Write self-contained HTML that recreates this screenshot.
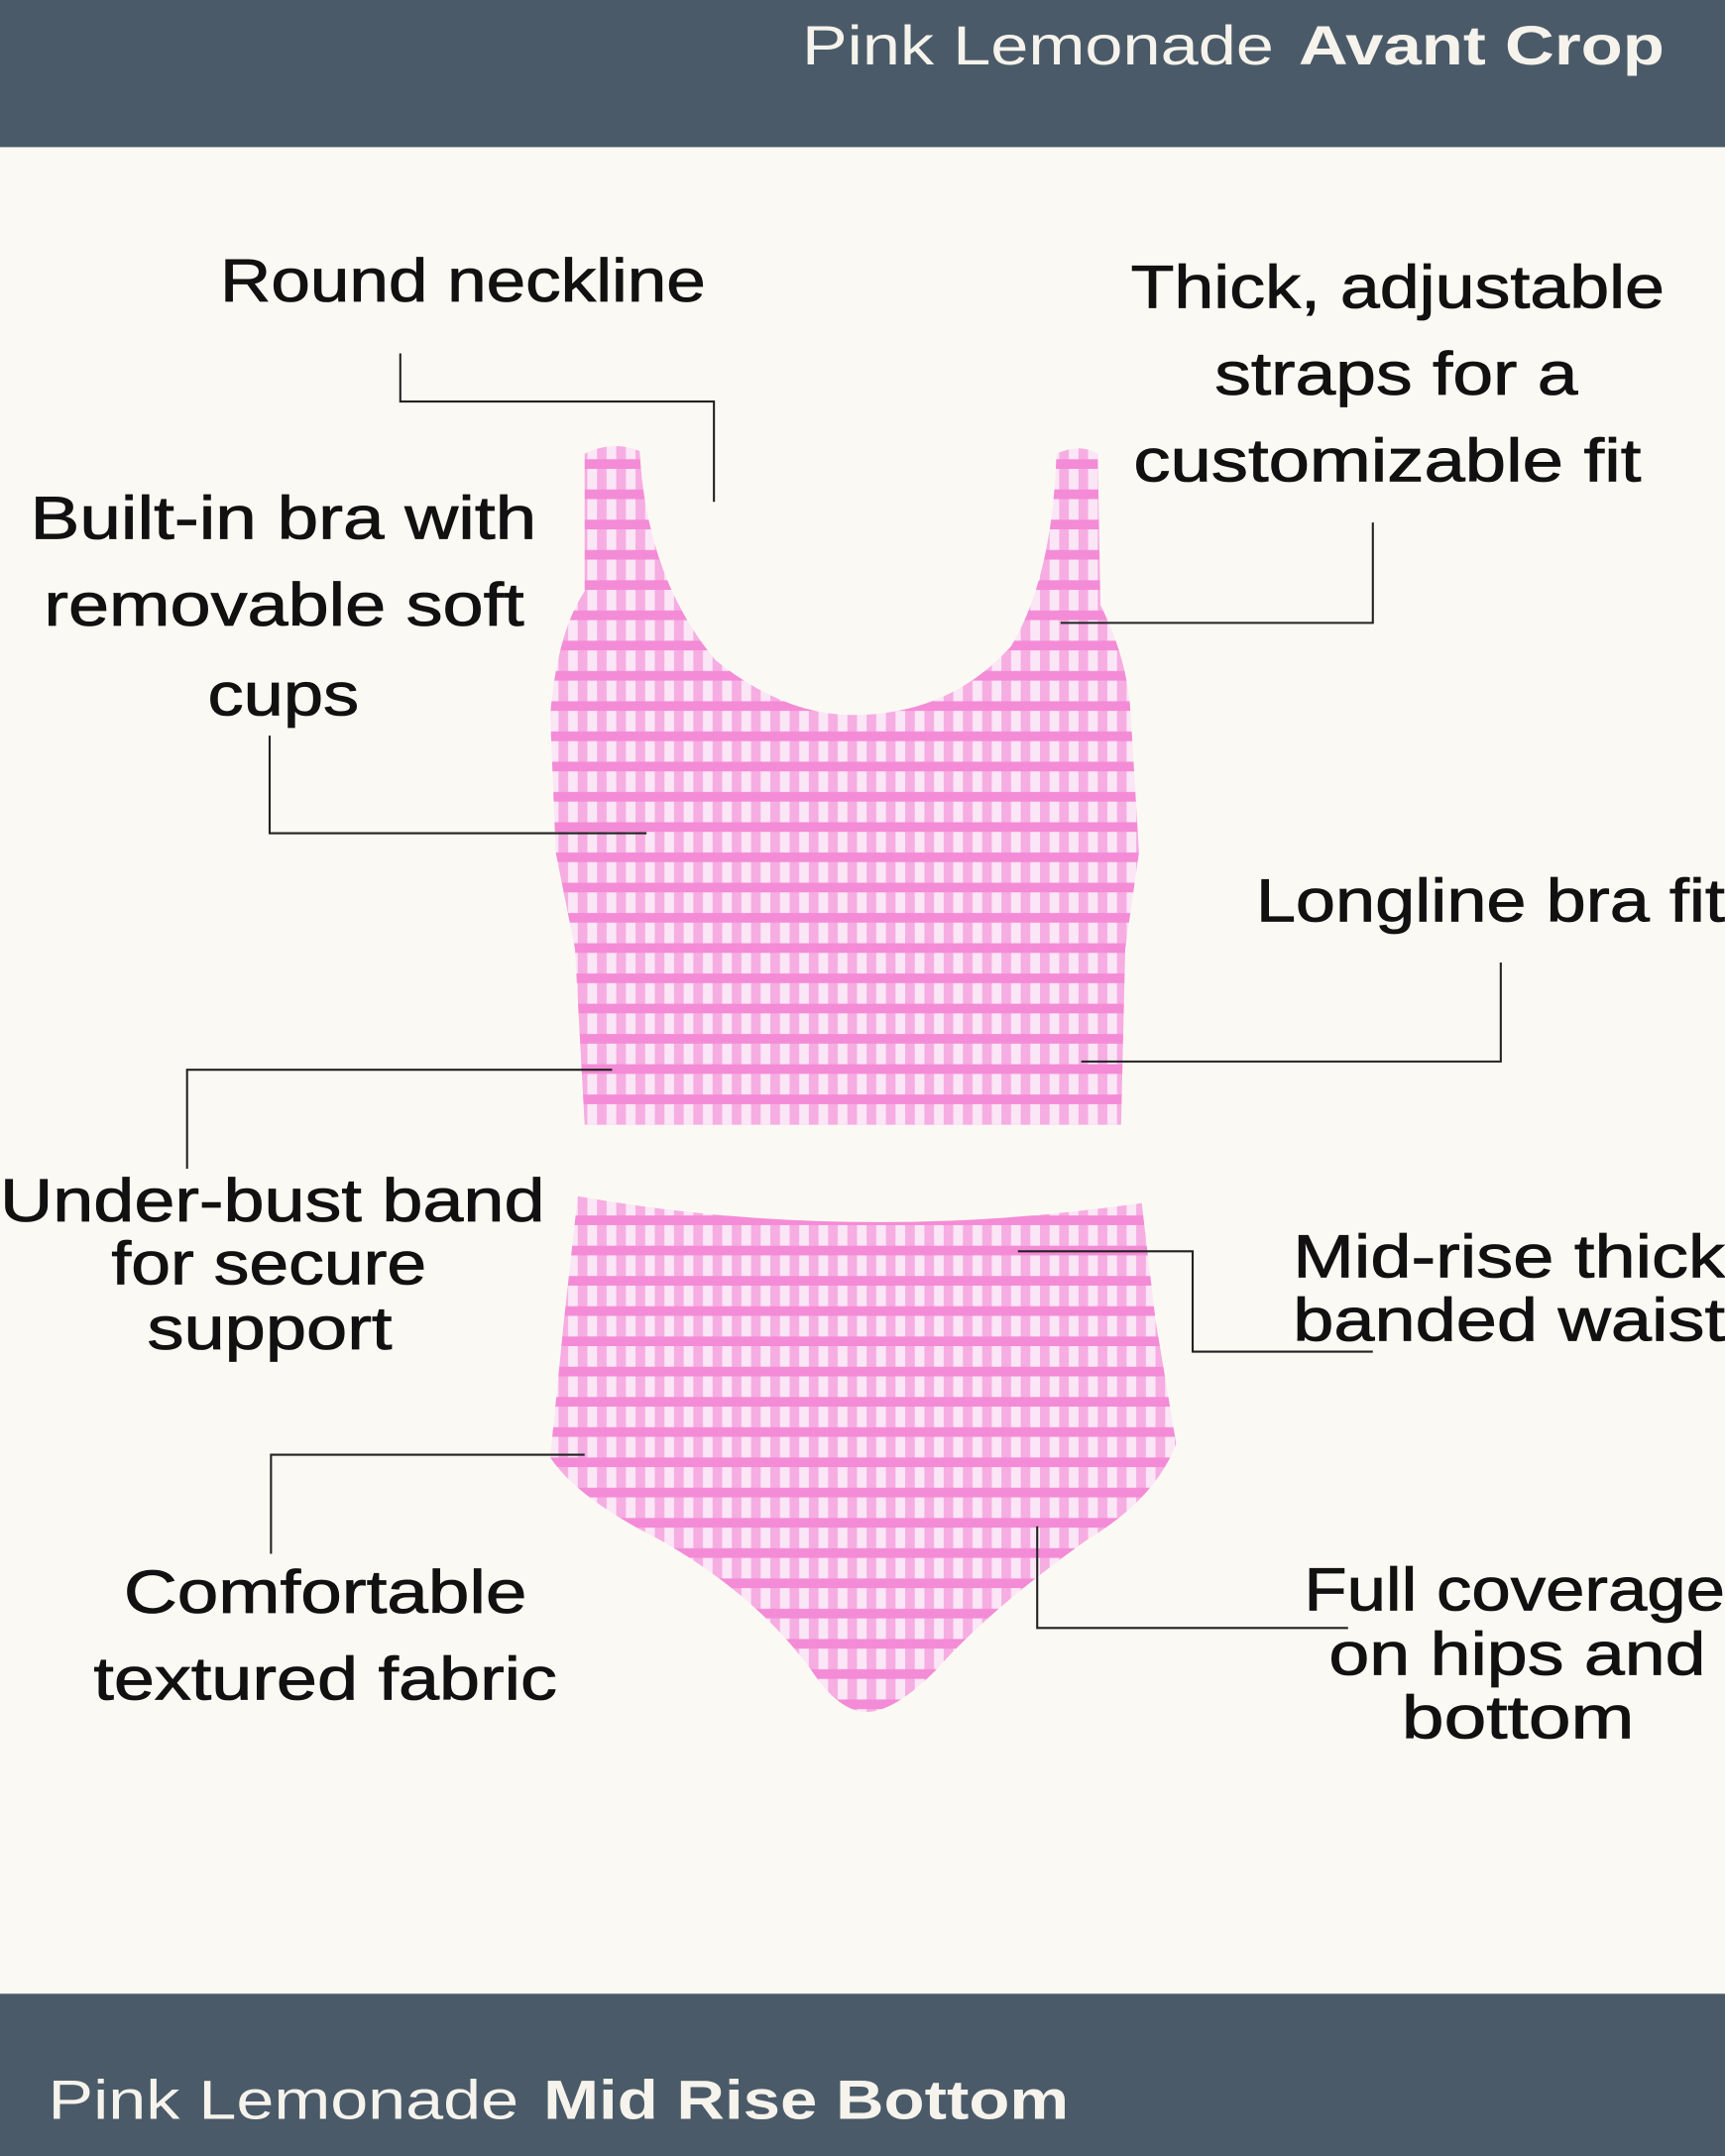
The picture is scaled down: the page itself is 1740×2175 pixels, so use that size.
<!DOCTYPE html>
<html><head><meta charset="utf-8"><style>
html,body{margin:0;padding:0;background:#fbf9f3;}
svg{display:block;}
text{font-family:"Liberation Sans",sans-serif;fill:#111;}
</style></head><body>
<svg width="1740" height="2175" viewBox="0 0 1254 1568" preserveAspectRatio="none" xmlns="http://www.w3.org/2000/svg">
<defs>
<pattern id="g" width="14" height="22" patternUnits="userSpaceOnUse">
<rect width="14" height="22" fill="#fbe6f6"/>
<rect x="0" width="7" height="22" fill="#f6ade2"/>
<rect y="4" width="14" height="7" fill="#f48bd6"/>
</pattern>
</defs>
<rect width="1254" height="1568" fill="#fbf9f3"/>
<rect width="1254" height="107" fill="#4a5a68"/>
<rect y="1450" width="1254" height="118" fill="#4a5a68"/>
<text x="583" y="47" font-size="40" style="fill:#f6f3ec" textLength="343" lengthAdjust="spacingAndGlyphs">Pink Lemonade</text>
<text x="944" y="47" font-size="40" font-weight="bold" style="fill:#f6f3ec" textLength="266" lengthAdjust="spacingAndGlyphs">Avant Crop</text>
<text x="35" y="1541" font-size="40" style="fill:#f6f3ec" textLength="342" lengthAdjust="spacingAndGlyphs">Pink Lemonade</text>
<text x="395" y="1541" font-size="40" font-weight="bold" style="fill:#f6f3ec" textLength="382" lengthAdjust="spacingAndGlyphs">Mid Rise Bottom</text>

<path d="M425,330 Q445,320 465,328 Q470,420 520,480 Q570,520 620,520 Q690,520 735,470 Q765,420 768,330 Q785,322 798,330 L800,440 Q820,480 822,520 L828,620 L818,690 L815,818 L425,818 L418,690 L404,620 L400,520 Q405,460 425,430 Z" fill="url(#g)"/>
<path d="M420,870 Q620,905 830,875 L840,960 L855,1050 Q840,1090 790,1120 Q720,1170 680,1215 Q650,1245 630,1245 Q610,1245 590,1215 Q550,1160 480,1120 Q420,1090 400,1060 L410,960 Z" fill="url(#g)"/>

<g fill="none" stroke="#222" stroke-width="1.5">
<polyline points="291,257 291,292 519,292 519,365"/>
<polyline points="998,380 998,453 771,453"/>
<polyline points="196,535 196,606 470,606"/>
<polyline points="1091,700 1091,772 786,772"/>
<polyline points="136,850 136,778 445,778"/>
<polyline points="740,910 867,910 867,983 998,983"/>
<polyline points="197,1130 197,1058 425,1058"/>
<polyline points="754,1110 754,1184 980,1184"/>
</g>

<g font-size="44" stroke="#111" stroke-width="0.6">
<text x="160" y="219" textLength="353" lengthAdjust="spacingAndGlyphs">Round neckline</text>
<text x="822" y="224" textLength="388" lengthAdjust="spacingAndGlyphs">Thick, adjustable</text>
<text x="883" y="287" textLength="264" lengthAdjust="spacingAndGlyphs">straps for a</text>
<text x="824" y="350" textLength="369" lengthAdjust="spacingAndGlyphs">customizable fit</text>
<text x="22" y="392" textLength="368" lengthAdjust="spacingAndGlyphs">Built-in bra with</text>
<text x="32" y="455" textLength="349" lengthAdjust="spacingAndGlyphs">removable soft</text>
<text x="151" y="520" textLength="110" lengthAdjust="spacingAndGlyphs">cups</text>
<text x="913" y="670" textLength="341" lengthAdjust="spacingAndGlyphs">Longline bra fit</text>
<text x="0" y="888" textLength="396" lengthAdjust="spacingAndGlyphs">Under-bust band</text>
<text x="81" y="934" textLength="229" lengthAdjust="spacingAndGlyphs">for secure</text>
<text x="107" y="981" textLength="178" lengthAdjust="spacingAndGlyphs">support</text>
<text x="940" y="929" textLength="314" lengthAdjust="spacingAndGlyphs">Mid-rise thick</text>
<text x="940" y="975" textLength="314" lengthAdjust="spacingAndGlyphs">banded waist</text>
<text x="90" y="1173" textLength="293" lengthAdjust="spacingAndGlyphs">Comfortable</text>
<text x="68" y="1236" textLength="337" lengthAdjust="spacingAndGlyphs">textured fabric</text>
<text x="948" y="1171" textLength="306" lengthAdjust="spacingAndGlyphs">Full coverage</text>
<text x="966" y="1218" textLength="274" lengthAdjust="spacingAndGlyphs">on hips and</text>
<text x="1019" y="1264" textLength="169" lengthAdjust="spacingAndGlyphs">bottom</text>
</g>
</svg>
</body></html>
